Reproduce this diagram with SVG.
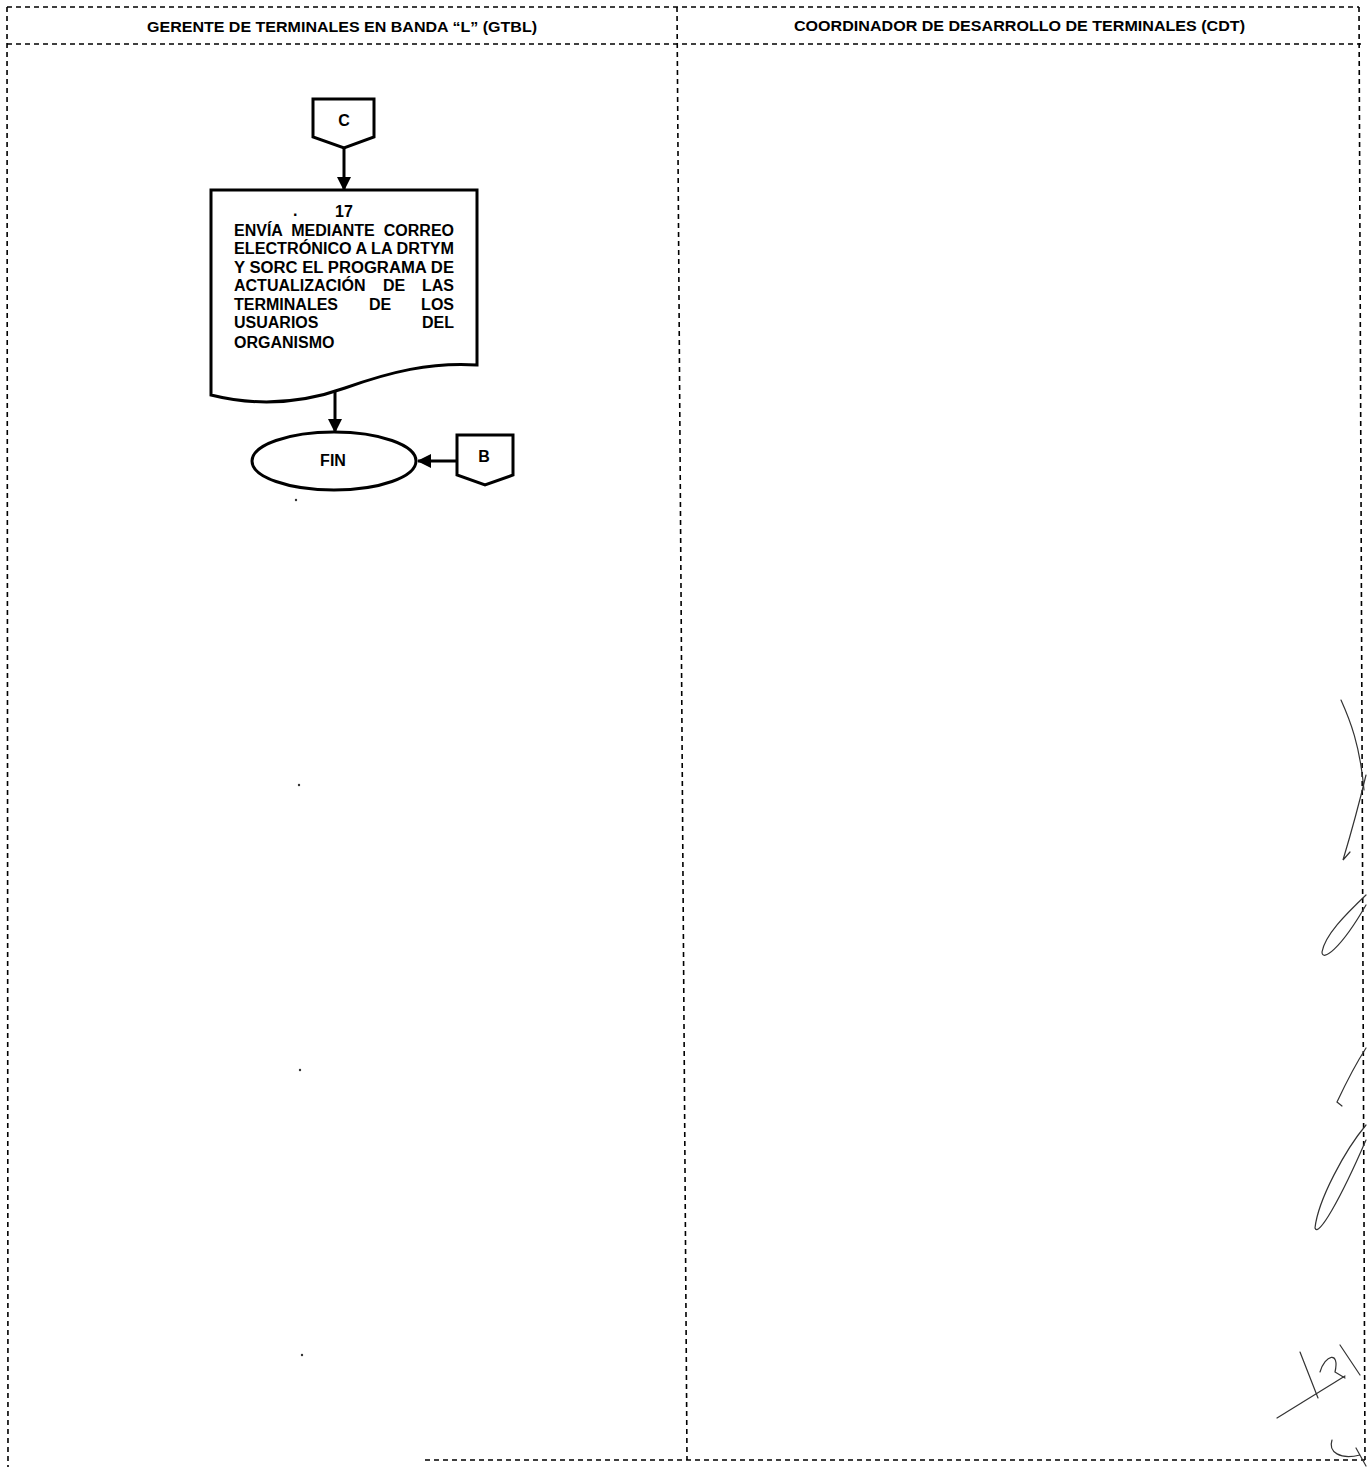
<svg xmlns="http://www.w3.org/2000/svg" width="1367" height="1467" viewBox="0 0 1367 1467">
<style>
.dash{fill:none;stroke:#000;stroke-width:1.6;stroke-dasharray:5 4}
.shape{fill:#fff;stroke:#000;stroke-width:3}
.edge{fill:none;stroke:#000;stroke-width:3}
.hdr{font-family:"Liberation Sans",Arial,sans-serif;font-size:15px;font-weight:bold;fill:#000}
.t{font-family:"Liberation Sans",Arial,sans-serif;font-size:16px;font-weight:bold;fill:#000}
.sig{fill:none;stroke:#333;stroke-width:1.2;stroke-linecap:round}
</style>
<defs>
<marker id="ah" viewBox="0 0 14 14" refX="13" refY="7" markerWidth="14" markerHeight="14" markerUnits="userSpaceOnUse" orient="auto">
<path d="M0,0 L14,7 L0,14 Z" fill="#000"/>
</marker>
</defs>
<rect width="1367" height="1467" fill="#fff"/>
<g id="lanes">
<line class="dash" x1="7" y1="7" x2="1359" y2="7"/>
<line class="dash" x1="7" y1="44" x2="1361" y2="44"/>
<line class="dash" x1="7" y1="7" x2="8" y2="1467"/>
<line class="dash" x1="677" y1="7" x2="687" y2="1460"/>
<line class="dash" x1="1359" y1="7" x2="1365" y2="1460"/>
<line class="dash" x1="425" y1="1460" x2="1365" y2="1460"/>
<text class="hdr" x="147" y="32" textLength="390" lengthAdjust="spacingAndGlyphs">GERENTE DE TERMINALES EN BANDA “L” (GTBL)</text>
<text class="hdr" x="794" y="31" textLength="451" lengthAdjust="spacingAndGlyphs">COORDINADOR DE DESARROLLO DE TERMINALES (CDT)</text>
</g>
<g id="connectors">
<line class="edge" x1="344" y1="148" x2="344" y2="190" marker-end="url(#ah)"/>
<line class="edge" x1="335" y1="392" x2="335" y2="432" marker-end="url(#ah)"/>
<line class="edge" x1="457" y1="461" x2="418" y2="461" marker-end="url(#ah)"/>
</g>
<g id="node-C">
<path class="shape" d="M313,99 H374 V137 L344,148 L313,137 Z"/>
<text class="t" x="344" y="126" text-anchor="middle" font-size="14">C</text>
</g>
<g id="node-17">
<path class="shape" d="M211,190 H477 V365 C430,362 390,372 345,388 C300,404 255,406 211,395 Z"/>
<text class="t" x="293" y="216" font-size="12">.</text>
<text class="t" x="344" y="217" text-anchor="middle">17</text>
<text class="t" x="234" y="236">ENVÍA</text>
<text class="t" x="333" y="236" text-anchor="middle">MEDIANTE</text>
<text class="t" x="454" y="236" text-anchor="end">CORREO</text>
<text class="t" x="234" y="254" textLength="220" lengthAdjust="spacingAndGlyphs">ELECTRÓNICO A LA DRTYM</text>
<text class="t" x="234" y="273" textLength="220" lengthAdjust="spacingAndGlyphs">Y SORC EL PROGRAMA DE</text>
<text class="t" x="234" y="291">ACTUALIZACIÓN</text>
<text class="t" x="394" y="291" text-anchor="middle">DE</text>
<text class="t" x="454" y="291" text-anchor="end">LAS</text>
<text class="t" x="234" y="310">TERMINALES</text>
<text class="t" x="380" y="310" text-anchor="middle">DE</text>
<text class="t" x="454" y="310" text-anchor="end">LOS</text>
<text class="t" x="234" y="328">USUARIOS</text>
<text class="t" x="454" y="328" text-anchor="end">DEL</text>
<text class="t" x="234" y="348">ORGANISMO</text>
</g>
<g id="node-FIN">
<ellipse class="shape" cx="334" cy="461" rx="82" ry="29"/>
<text class="t" x="333" y="466" text-anchor="middle" font-size="14">FIN</text>
</g>
<g id="node-B">
<path class="shape" d="M457,435 H513 V475 L485,485 L457,475 Z"/>
<text class="t" x="484" y="462" text-anchor="middle" font-size="14">B</text>
</g>
<g id="marks">
<circle cx="296" cy="500" r="1.2" fill="#333"/>
<circle cx="299" cy="785" r="1.2" fill="#333"/>
<circle cx="300" cy="1070" r="1.2" fill="#333"/>
<circle cx="302" cy="1355" r="1.2" fill="#333"/>
<path class="sig" d="M1341,700 C1350,720 1360,745 1364,790"/>
<path class="sig" d="M1366,775 C1360,800 1352,830 1343,860 L1350,852"/>
<path class="sig" d="M1366,895 C1345,915 1325,935 1322,952 C1322,962 1340,950 1366,905"/>
<path class="sig" d="M1366,1048 C1355,1065 1345,1085 1337,1102 L1342,1106"/>
<path class="sig" d="M1366,1125 C1345,1150 1318,1200 1315,1228 C1318,1238 1340,1200 1366,1140"/>
<path class="sig" d="M1277,1418 L1345,1376"/>
<path class="sig" d="M1300,1352 L1318,1398 M1320,1372 C1325,1355 1340,1350 1335,1372 L1345,1378 M1340,1345 L1360,1375"/>
<path class="sig" d="M1332,1440 C1328,1452 1340,1460 1360,1455 M1356,1448 L1366,1466"/>
</g>
</svg>
